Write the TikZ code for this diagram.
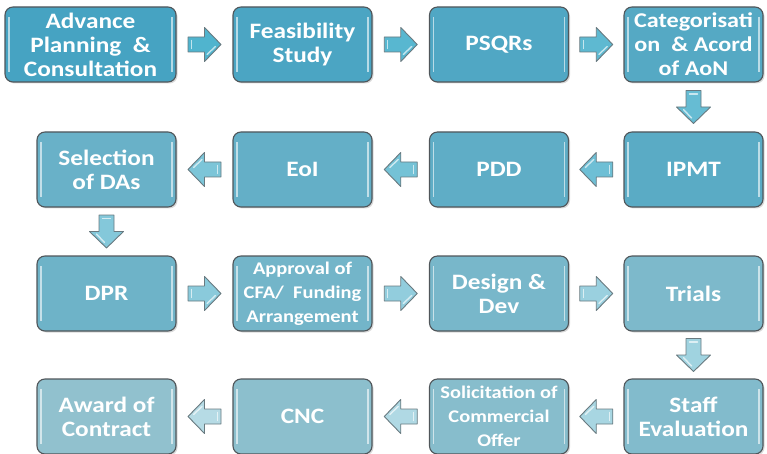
\documentclass[tikz,border=0pt]{standalone}
\usepackage{fontspec}
\setmainfont{Carlito}[FakeStretch=1.15]
\usetikzlibrary{calc,shadows}
\definecolor{boxdark}{RGB}{70,163,194}
\definecolor{boxlight}{RGB}{145,193,206}
\definecolor{boxline}{RGB}{80,86,90}
\definecolor{arrdark}{RGB}{80,180,206}
\definecolor{arrlight}{RGB}{190,222,231}
\definecolor{arrline}{RGB}{105,122,128}
\newcommand\smalltxt{\fontsize{17.8}{20.5}\selectfont}
\newcommand\midtxt{\fontsize{21}{24}\selectfont}
\tikzset{
  stepbox/.style={draw=boxline, line width=1.1pt, rounded corners=8pt,
    fill=boxlight!#1!boxdark, minimum width=139pt, minimum height=75pt,
    text=white, font=\bfseries\fontsize{22}{24}\selectfont, align=center, inner sep=1pt,
    drop shadow={shadow xshift=1.5pt, shadow yshift=-1.5pt, opacity=0.3},
    path picture={
      \draw[white, opacity=0.6, line width=1.2pt]
        ([xshift=4pt,yshift=-10pt]path picture bounding box.north west) --
        ([xshift=4pt,yshift=10pt]path picture bounding box.south west);
      \draw[white, opacity=0.6, line width=1.2pt]
        ([xshift=-4pt,yshift=-10pt]path picture bounding box.north east) --
        ([xshift=-4pt,yshift=10pt]path picture bounding box.south east);
    }},
  arrbody/.style={draw=arrline, line width=0.9pt, fill=arrlight!#1!arrdark, line join=round},
  arrshine/.style={white, opacity=0.65, line width=1.4pt, line cap=round}
}
\newcommand\blockarr[4]{%
  \begin{scope}[shift={($(#1)!0.5!(#2)$)}, rotate=#3]
    \draw[arrbody=#4] (-16.5,-7.5) -- (0,-7.5) -- (0,-17) -- (16.5,0) -- (0,17) -- (0,7.5) -- (-16.5,7.5) -- cycle;
    \draw[arrshine] (-13,-4) -- (-13,4);
    \draw[arrshine] (2.5,-10) -- (11,-2);
  \end{scope}}
\begin{document}
\begin{tikzpicture}[x=1pt,y=1pt]
\useasboundingbox (0,0) rectangle (767,-454);
% row 1
\node[stepbox=0, minimum width=171pt] (s1) at (90.5,-44.5) {Advance\\Planning\ \ \&\\Consultation};
\node[stepbox=7]  (s2) at (302.5,-44.5) {Feasibility\\Study};
\node[stepbox=13] (s3) at (499,-44.5) {PSQRs};
\node[stepbox=20] (s4) at (693.5,-44.5) {\midtxt Categorisati\\\midtxt on\ \ \& Acord\\\midtxt of AoN};
% row 2
\node[stepbox=27] (s5) at (693.5,-169.5) {IPMT};
\node[stepbox=33] (s6) at (499,-169.5) {PDD};
\node[stepbox=40] (s7) at (302.5,-169.5) {EoI};
\node[stepbox=47] (s8) at (106.5,-169.5) {Selection\\of DAs};
% row 3
\node[stepbox=53] (s9)  at (106.5,-293.5) {DPR};
\node[stepbox=60] (s10) at (302.5,-293.5) {\smalltxt Approval of\\\smalltxt CFA/\ \ Funding\\\smalltxt Arrangement};
\node[stepbox=67] (s11) at (499,-293.5) {Design \&\\Dev};
\node[stepbox=73] (s12) at (693.5,-293.5) {Trials};
% row 4
\node[stepbox=80] (s13) at (693.5,-416.5) {Staff\\Evaluation};
\node[stepbox=87] (s14) at (499,-416.5) {\smalltxt Solicitation of\\\smalltxt Commercial\\\smalltxt Offer};
\node[stepbox=93] (s15) at (302.5,-416.5) {CNC};
\node[stepbox=100] (s16) at (106.5,-416.5) {Award of\\Contract};
% arrows
\blockarr{s1.east}{s2.west}{0}{0}
\blockarr{s2.east}{s3.west}{0}{7}
\blockarr{s3.east}{s4.west}{0}{13}
\blockarr{s4.south}{s5.north}{-90}{20}
\blockarr{s5.west}{s6.east}{180}{27}
\blockarr{s6.west}{s7.east}{180}{33}
\blockarr{s7.west}{s8.east}{180}{40}
\blockarr{s8.south}{s9.north}{-90}{47}
\blockarr{s9.east}{s10.west}{0}{53}
\blockarr{s10.east}{s11.west}{0}{60}
\blockarr{s11.east}{s12.west}{0}{67}
\blockarr{s12.south}{s13.north}{-90}{73}
\blockarr{s13.west}{s14.east}{180}{80}
\blockarr{s14.west}{s15.east}{180}{87}
\blockarr{s15.west}{s16.east}{180}{93}
\end{tikzpicture}
\end{document}
